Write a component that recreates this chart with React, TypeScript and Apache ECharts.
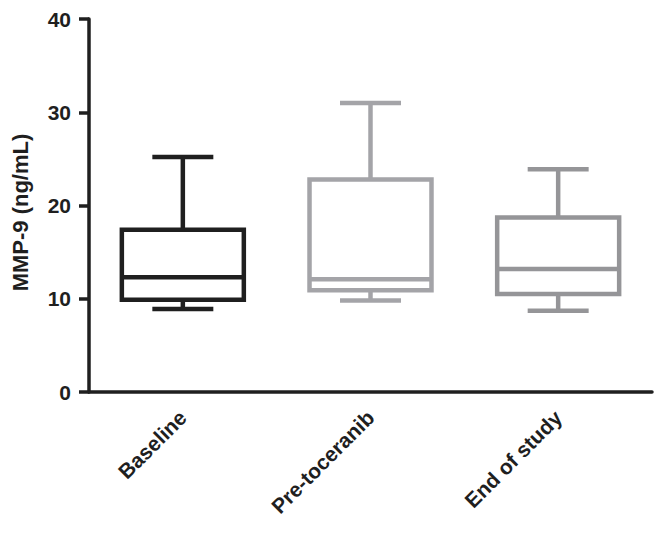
import React, { useEffect, useRef } from "react";
import * as echarts from "echarts";

const categories = ["Baseline", "Pre-toceranib", "End of study"];
// [min, q1, median, q3, max]
const baselineBox = [8.9, 9.9, 12.3, 17.4, 25.2];
const preToceranibBox = [9.8, 10.9, 12.1, 22.8, 31.0];
const endOfStudyBox = [8.7, 10.5, 13.2, 18.7, 23.9];
const boxColors = ["#1f1f1f", "#a4a4a8", "#959598"];
const yTicks = [0, 10, 20, 30, 40];

export default function App() {
  const ref = useRef<HTMLDivElement>(null);
  useEffect(() => {
    if (!ref.current) return;
    const chart = echarts.init(ref.current, undefined, { renderer: "svg" });
    const boxes = [baselineBox, preToceranibBox, endOfStudyBox];
    const data = boxes.map((b, i) => [i, ...b]);
    const font = "Liberation Sans";
    chart.setOption({
      animation: false,
      grid: { left: 89, right: 13, top: 19, bottom: 143, containLabel: false },
      xAxis: {
        type: "category",
        data: categories,
        boundaryGap: true,
        axisLine: { lineStyle: { color: "#1f1f1f", width: 3.5 } },
        axisTick: { alignWithLabel: true, length: 10, lineStyle: { color: "#1f1f1f", width: 3.5 } },
        axisLabel: {
          rotate: 45,
          color: "#1f1f1f",
          fontFamily: font,
          fontWeight: "bold",
          fontSize: 21,
          margin: 22,
        },
        splitLine: { show: false },
      },
      yAxis: {
        type: "value",
        min: yTicks[0],
        max: yTicks[yTicks.length - 1],
        interval: 10,
        name: "MMP-9 (ng/mL)",
        nameLocation: "middle",
        nameGap: 58,
        nameTextStyle: {
          color: "#1f1f1f",
          fontFamily: font,
          fontWeight: "bold",
          fontSize: 22,
          padding: [0, 14, 0, 0],
        },
        axisLine: { show: true, lineStyle: { color: "#1f1f1f", width: 3.5 } },
        axisTick: { show: true, length: 10, lineStyle: { color: "#1f1f1f", width: 3.5 } },
        axisLabel: { color: "#1f1f1f", fontFamily: font, fontWeight: "bold", fontSize: 21, margin: 18 },
        splitLine: { show: false },
      },
      series: [
        {
          type: "custom",
          data,
          encode: { x: 0, y: [1, 2, 3, 4, 5] },
          renderItem: (params: any, api: any) => {
            const idx = api.value(0);
            const vals = [1, 2, 3, 4, 5].map((d) => api.value(d));
            const pts = vals.map((v) => api.coord([idx, v]));
            const cx = pts[0][0];
            const band = api.size([1, 0])[0];
            const w = band * 0.65;
            const cap = w / 2;
            const color = boxColors[idx];
            const style = { stroke: color, lineWidth: 4.5, fill: "none" };
            const yMin = pts[0][1], yQ1 = pts[1][1], yMed = pts[2][1], yQ3 = pts[3][1], yMax = pts[4][1];
            return {
              type: "group",
              children: [
                { type: "line", shape: { x1: cx, y1: yQ3, x2: cx, y2: yMax }, style },
                { type: "line", shape: { x1: cx, y1: yQ1, x2: cx, y2: yMin }, style },
                { type: "line", shape: { x1: cx - cap / 2, y1: yMax, x2: cx + cap / 2, y2: yMax }, style },
                { type: "line", shape: { x1: cx - cap / 2, y1: yMin, x2: cx + cap / 2, y2: yMin }, style },
                { type: "rect", shape: { x: cx - w / 2, y: yQ3, width: w, height: yQ1 - yQ3 }, style: { ...style, fill: "#ffffff" } },
                { type: "line", shape: { x1: cx - w / 2, y1: yMed, x2: cx + w / 2, y2: yMed }, style },
              ],
            };
          },
        },
      ],
    });
    return () => chart.dispose();
  }, []);
  return (
    <div
      ref={ref}
      style={{ position: "absolute", left: 0, top: 0, width: 665, height: 535 }}
    />
  );
}
